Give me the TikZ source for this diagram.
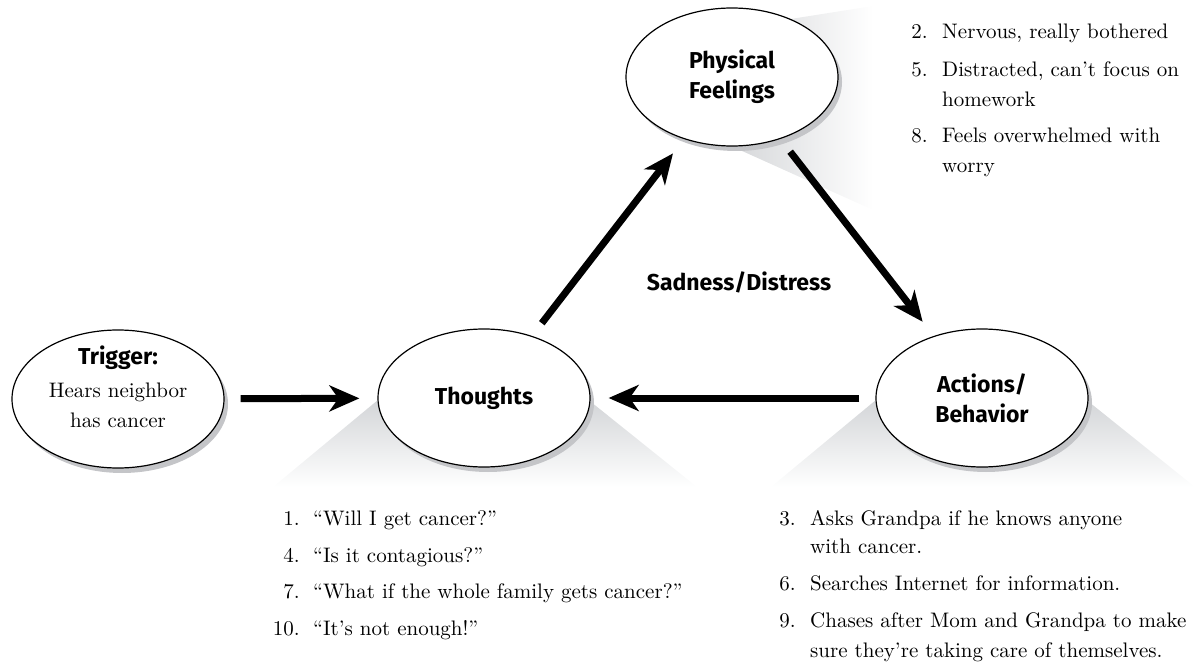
\documentclass[tikz,border=0pt]{standalone}
\usepackage{fontspec}
\setmainfont{lmroman10-regular.otf}[Ligatures=TeX]
\newfontfamily\labelfont{Fira Sans}
\usetikzlibrary{arrows.meta,shapes.geometric,shadows}

\definecolor{beam}{RGB}{204,206,209}
\definecolor{shade}{RGB}{196,197,200}

\tikzset{
  bubble/.style={ellipse, draw=black, line width=1.2pt, fill=white,
    minimum width=212pt, minimum height=138pt, inner sep=0pt, align=center,
    font=\labelfont\bfseries\fontsize{23}{30}\selectfont,
    drop shadow={shadow xshift=4pt, shadow yshift=-5pt, fill=shade, opacity=1}},
  flow/.style={line width=7pt, -{Stealth[length=30pt, width=26pt, inset=9pt]},
    shorten <=16pt, shorten >=18pt},
  mood/.style={font=\labelfont\bfseries\fontsize{23}{30}\selectfont},
  item/.style={font=\fontsize{21}{28}\selectfont, anchor=base west, inner sep=0pt},
  num/.style={font=\fontsize{21}{28}\selectfont, anchor=base east, inner sep=0pt},
}

\begin{document}
\begin{tikzpicture}[x=1pt,y=-1pt]
\useasboundingbox (0,0) rectangle (1199,663);

% light beams spreading from the bubbles towards their lists
\shade[left color=beam, right color=white] (740,27) -- (873,6) -- (873,210) -- (700,132) -- cycle;
\shade[top color=beam, bottom color=white] (396,385) -- (273,487) -- (697,487) -- (576,390) -- cycle;
\shade[top color=beam, bottom color=white] (894,385) -- (771,487) -- (1195,487) -- (1074,390) -- cycle;

% bubbles
\node[bubble] (trigger) at (118,399)
  {\raisebox{9pt}[\height][\depth]{\begin{tabular}{@{}c@{}}
     Trigger:\\[3pt]
     {\normalfont\fontsize{21}{28}\selectfont Hears neighbor}\\
     {\normalfont\fontsize{21}{28}\selectfont has cancer}
   \end{tabular}}};
\node[bubble] (thoughts) at (484,398) {Thoughts};
\node[bubble] (physical) at (732,77) {Physical\\Feelings};
\node[bubble] (actions) at (982,398) {Actions/\\Behavior};

% cycle arrows
\draw[flow] (trigger) -- (thoughts);
\draw[flow] (thoughts) -- (physical);
\draw[flow] (physical) -- (actions);
\draw[flow] (actions) -- (thoughts);

\node[mood] (mood) at (739,282) {Sadness/Distress};

% physical feelings
\node[num] (n2) at (928,39) {2.};
\node[item] (t2) at (942,39) {Nervous, really bothered};
\node[num] (n5) at (928,77) {5.};
\node[item] (t5) at (942,77) {Distracted, can’t focus on};
\node[item] (t5b) at (942,107) {homework};
\node[num] (n8) at (928,143) {8.};
\node[item] (t8) at (942,143) {Feels overwhelmed with};
\node[item] (t8b) at (942,173) {worry};

% thoughts
\node[num] (n1) at (300,525) {1.};
\node[item] (t1) at (313,525) {“Will I get cancer?”};
\node[num] (n4) at (300,562) {4.};
\node[item] (t4) at (313,562) {“Is it contagious?”};
\node[num] (n7) at (300,598) {7.};
\node[item] (t7) at (313,598) {“What if the whole family gets cancer?”};
\node[num] (n10) at (300,635) {10.};
\node[item] (t10) at (313,635) {“It’s not enough!”};

% actions
\node[num] (n3) at (796,525) {3.};
\node[item] (t3) at (810,525) {Asks Grandpa if he knows anyone};
\node[item] (t3b) at (810,553) {with cancer.};
\node[num] (n6) at (796,590) {6.};
\node[item] (t6) at (810,590) {Searches Internet for information.};
\node[num] (n9) at (796,627) {9.};
\node[item] (t9) at (810,627) {Chases after Mom and Grandpa to make};
\node[item] (t9b) at (810,657) {sure they’re taking care of themselves.};
\end{tikzpicture}
\end{document}
